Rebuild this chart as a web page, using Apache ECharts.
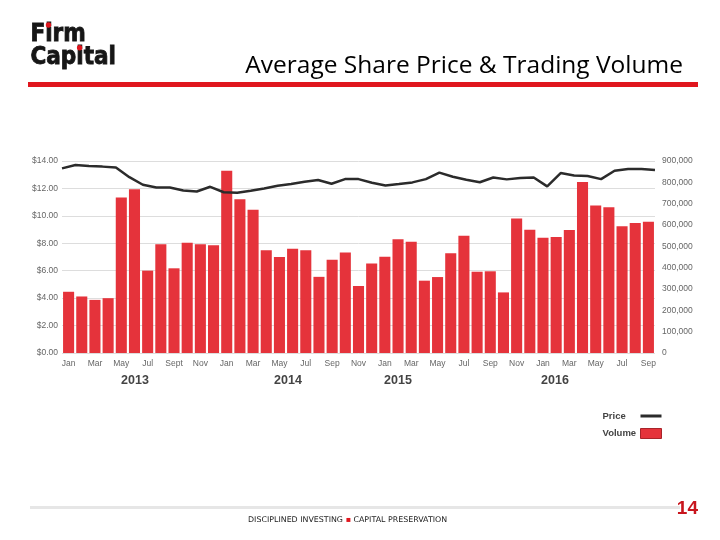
<!DOCTYPE html>
<html>
<head>
<meta charset="utf-8">
<script src="https://cdn.jsdelivr.net/npm/echarts@6/dist/echarts.min.js"></script>
<style>html,body{margin:0;padding:0;background:#fff;}#c{width:720px;height:540px;}</style>
</head>
<body>
<div id="c"></div>
<script>
const categories = [
  '2013-01','2013-02','2013-03','2013-04','2013-05','2013-06','2013-07','2013-08','2013-09','2013-10','2013-11','2013-12',
  '2014-01','2014-02','2014-03','2014-04','2014-05','2014-06','2014-07','2014-08','2014-09','2014-10','2014-11','2014-12',
  '2015-01','2015-02','2015-03','2015-04','2015-05','2015-06','2015-07','2015-08','2015-09','2015-10','2015-11','2015-12',
  '2016-01','2016-02','2016-03','2016-04','2016-05','2016-06','2016-07','2016-08','2016-09'
];
const monthLabels = [
  'Jan','Feb','Mar','Apr','May','Jun','Jul','Aug','Sept','Oct','Nov','Dec',
  'Jan','Feb','Mar','Apr','May','Jun','Jul','Aug','Sep','Oct','Nov','Dec',
  'Jan','Feb','Mar','Apr','May','Jun','Jul','Aug','Sep','Oct','Nov','Dec',
  'Jan','Feb','Mar','Apr','May','Jun','Jul','Aug','Sep'
];
const volume = [
  287000, 265000, 249000, 257000, 729000, 768000, 386000, 510000, 397000, 517000, 510000, 505000,
  854000, 721000, 671000, 482000, 450000, 489000, 482000, 357000, 437000, 471000, 314000, 420000,
  451000, 533000, 522000, 339000, 356000, 467000, 550000, 381000, 383000, 284000, 631000, 578000,
  540000, 544000, 577000, 802000, 691000, 683000, 594000, 609000, 615000
];
const price = [
  13.46, 13.71, 13.63, 13.59, 13.52, 12.82, 12.27, 12.07, 12.07, 11.85, 11.78, 12.12,
  11.72, 11.68, 11.83, 12.00, 12.20, 12.32, 12.49, 12.61, 12.34, 12.68, 12.68, 12.41,
  12.22, 12.32, 12.44, 12.68, 13.15, 12.85, 12.63, 12.45, 12.80, 12.66, 12.76, 12.80,
  12.15, 13.12, 12.95, 12.90, 12.68, 13.29, 13.41, 13.41, 13.34
];
const years = ['2013', '2014', '2015', '2016'];
const yearLabelX = [135, 288, 398, 555];
const seriesNames = ['Price', 'Volume'];

const RED = '#e5333b';
const chart = echarts.init(document.getElementById('c'), null, {renderer: 'canvas'});

const logoFont = "bold 24px 'DejaVu Sans Condensed','DejaVu Sans',sans-serif";
const graphics = [
  {type: 'text', left: 30, top: 22.5, style: {text: 'Firm', font: logoFont, fill: '#161616', stroke: '#161616', lineWidth: 0.8}},
  {type: 'text', left: 30, top: 45, style: {text: 'Capital', font: logoFont, fill: '#161616', stroke: '#161616', lineWidth: 0.8}},
  {type: 'circle', shape: {cx: 48.5, cy: 25, r: 2.7}, style: {fill: '#e0161e'}},
  {type: 'circle', shape: {cx: 79.6, cy: 47.8, r: 2.7}, style: {fill: '#e0161e'}},
  {type: 'text', right: 37, top: 54, style: {text: 'Average Share Price & Trading Volume', font: "24.5px 'Open Sans', Lato, sans-serif", fill: '#000'}},
  {type: 'rect', shape: {x: 28, y: 82, width: 670, height: 5}, style: {fill: '#e0161e'}},
  {type: 'rect', shape: {x: 30, y: 506, width: 650, height: 3}, style: {fill: '#e6e6e6'}},
  {type: 'text', left: 248, top: 516, style: {
    text: '{a|DISCIPLINED INVESTING }{b|▪}{a| CAPITAL PRESERVATION}',
    rich: {a: {font: "7.9px 'DejaVu Sans', sans-serif", fill: '#222'}, b: {font: "8px 'DejaVu Sans', sans-serif", fill: '#e0161e'}}
  }},
  {type: 'text', right: 22, top: 499, style: {text: '14', font: "bold 19px 'Liberation Sans', Arial, sans-serif", fill: '#c8151d'}}
];
years.forEach(function (y, i) {
  graphics.push({type: 'text', x: yearLabelX[i], y: 381, style: {text: y, font: "bold 12.5px 'Liberation Sans', Arial, sans-serif", fill: '#444', align: 'center', verticalAlign: 'middle'}});
});

const option = {
  backgroundColor: '#fff',
  animation: false,
  textStyle: {fontFamily: "'Liberation Sans', Arial, sans-serif"},
  grid: {left: 62, right: 65, top: 161, bottom: 187, containLabel: false},
  legend: {
    orient: 'vertical', right: 53, top: 406, align: 'right', itemGap: 7,
    itemWidth: 21, itemHeight: 10,
    data: [
      {name: seriesNames[0], icon: 'path://M0,0L21,0L21,3L0,3Z'},
      {name: seriesNames[1], icon: 'rect', itemStyle: {borderColor: '#a8242a', borderWidth: 1}}
    ],
    formatter: function (n) { return '{t|' + n + '}'; },
    textStyle: {rich: {t: {width: 33, align: 'left', fontSize: 9.5, fontWeight: 'bold', color: '#444'}}}
  },
  xAxis: [
    {
      type: 'category', data: categories, boundaryGap: true,
      axisLine: {show: false}, axisTick: {show: false},
      axisLabel: {interval: 1, margin: 6, fontSize: 8.5, color: '#666',
        formatter: function (v, i) { return monthLabels[i]; }}
    },
    {type: 'category', data: categories, boundaryGap: false, show: false}
  ],
  yAxis: [
    {
      type: 'value', min: 0, max: 14, interval: 2, position: 'left',
      axisLine: {show: false}, axisTick: {show: false},
      axisLabel: {fontSize: 8.5, color: '#666', margin: 4, formatter: function (v) { return '$' + v.toFixed(2); }},
      splitLine: {lineStyle: {color: '#dddddd', width: 1}}
    },
    {
      type: 'value', min: 0, max: 900000, interval: 100000, position: 'right',
      axisLine: {show: false}, axisTick: {show: false}, splitLine: {show: false},
      axisLabel: {fontSize: 8.5, color: '#666', margin: 7, formatter: function (v) { return v.toLocaleString('en-US'); }}
    }
  ],
  series: [
    {
      name: seriesNames[1], type: 'bar', xAxisIndex: 0, yAxisIndex: 1, data: volume,
      barCategoryGap: '16%', itemStyle: {color: RED}, z: 2
    },
    {
      name: seriesNames[0], type: 'line', xAxisIndex: 1, yAxisIndex: 0, data: price,
      showSymbol: false, symbol: 'none', lineStyle: {color: '#2b2b2b', width: 2.5}, itemStyle: {color: '#2b2b2b'}, z: 3
    }
  ],
  graphic: graphics
};
chart.setOption(option);
</script>
</body>
</html>
